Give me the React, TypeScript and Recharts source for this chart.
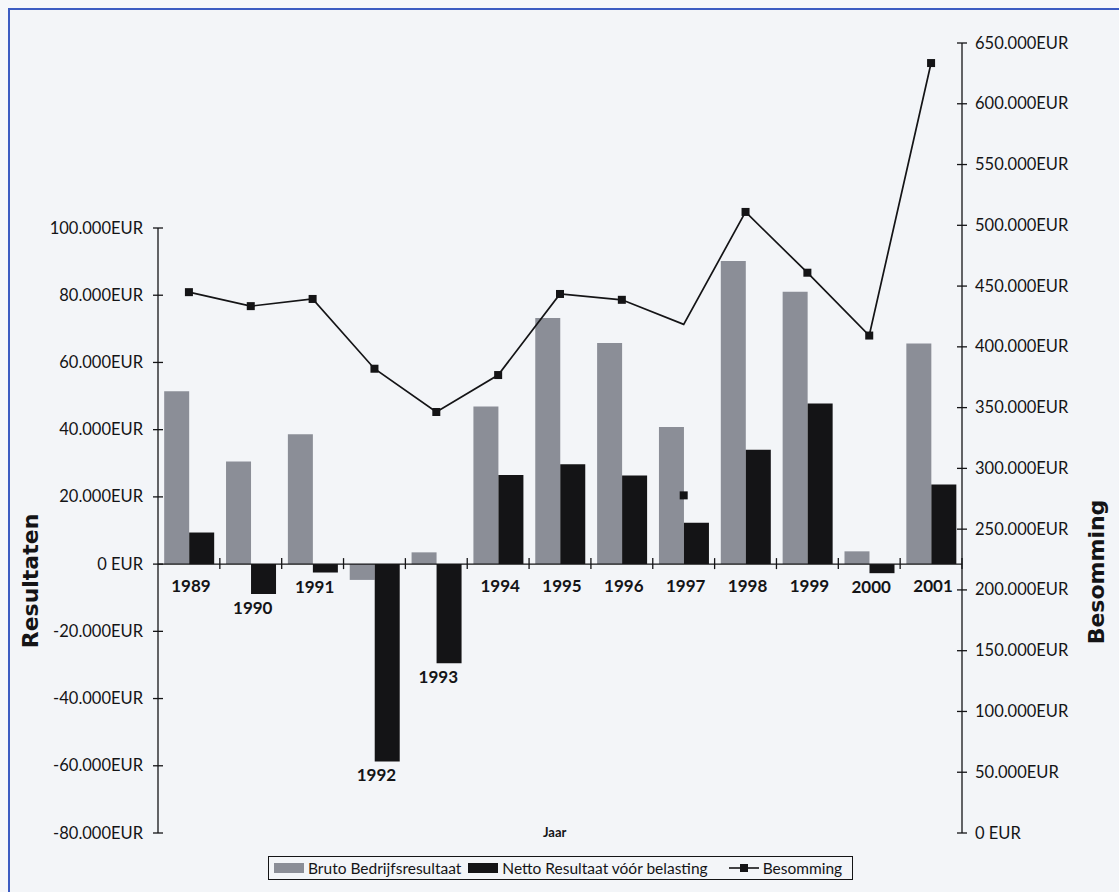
import React from "react";
import {
  ComposedChart,
  Bar,
  Line,
  XAxis,
  YAxis,
  ReferenceLine,
  LabelList,
} from "recharts";

const years = ["1989", "1990", "1991", "1992", "1993", "1994", "1995", "1996", "1997", "1998", "1999", "2000", "2001"];
const bruto = [51400, 30500, 38600, -4700, 3500, 46900, 73200, 65800, 40800, 90200, 81000, 3800, 65600];
const netto = [9400, -8900, -2500, -58700, -29500, 26500, 29700, 26400, 12300, 34000, 47800, -2700, 23700];
// the line runs through these...
const besomming = [445000, 433500, 439400, 382000, 346400, 376800, 443500, 438700, 418500, 511000, 461000, 409300, 633500];
// ...but the markers sit here (1997 is off the line in the original)
const besommingMarker = [445000, 433500, 439400, 382000, 346400, 376800, 443500, 438700, 277800, 511000, 461000, 409300, 633500];

const leftTicks = [-80000, -60000, -40000, -20000, 0, 20000, 40000, 60000, 80000, 100000];
const rightTicks = [0, 50000, 100000, 150000, 200000, 250000, 300000, 350000, 400000, 450000, 500000, 550000, 600000, 650000];

const data = years.map((year, i) => ({
  year,
  bruto: bruto[i],
  netto: netto[i],
  besomming: besomming[i],
  besommingMarker: besommingMarker[i],
}));

const W = 1119;
const H = 892;
const M = { top: 43, right: 37, bottom: 59, left: 38 };
const AXIS_W = 120;
const PLOT_L = M.left + AXIS_W;
const PLOT_R = W - M.right - AXIS_W;
const PLOT_H = H - M.top - M.bottom;
const BAND = (PLOT_R - PLOT_L) / years.length;

// left scale only covers -80k..100k, the top of the plot is empty room
const LEFT_MIN = -80000;
const LEFT_MAX = 100000 + (185 / 605) * 180000;
const STEP = (PLOT_H * 20000) / (LEFT_MAX - LEFT_MIN);

const INK = "#141416";
const GREY = "#8b8e97";
const TICK_FONT = "Lato, 'Open Sans', sans-serif";

const fmt = (v: number) => {
  if (v === 0) return "0 EUR";
  const s = String(Math.abs(v)).replace(/\B(?=(\d{3})+(?!\d))/g, ".");
  return (v < 0 ? "-" : "") + s + "EUR";
};

function LeftTick(props: any) {
  const { x, y, payload } = props;
  const v = payload.value;
  return (
    <g>
      {v < 100000 && (
        <line x1={PLOT_L} x2={PLOT_L} y1={y} y2={y - STEP} stroke={INK} strokeWidth={1.3} />
      )}
      <line x1={PLOT_L - 5} x2={PLOT_L + 5} y1={y} y2={y} stroke={INK} strokeWidth={1.3} />
      <text x={x} y={y} dy={5.5} textAnchor="end" fontFamily={TICK_FONT} fontSize={16.5} fill={INK}>
        {fmt(v)}
      </text>
    </g>
  );
}

function RightTick(props: any) {
  const { x, y, payload } = props;
  return (
    <g>
      <line x1={PLOT_R - 5} x2={PLOT_R + 5} y1={y} y2={y} stroke={INK} strokeWidth={1.3} />
      <text x={x} y={y} dy={5.5} textAnchor="start" fontFamily={TICK_FONT} fontSize={16.5} fill={INK}>
        {fmt(payload.value)}
      </text>
    </g>
  );
}

function YearLabel(props: any) {
  const { y, height, value, index } = props;
  const top = Math.min(y, y + height);
  const bottom = Math.max(y, y + height);
  const zeroY = netto[index] < 0 ? top : bottom;
  const ly = Math.max(zeroY + 22, bottom + 14);
  const cx = PLOT_L + (index + 0.5) * BAND;
  const edge = PLOT_L + (index + 1) * BAND;
  return (
    <g>
      <line x1={edge} x2={edge} y1={zeroY - 6} y2={zeroY + 5} stroke={INK} strokeWidth={1.3} />
      <text
        x={cx + 2}
        y={ly}
        dy={6}
        textAnchor="middle"
        fontFamily={TICK_FONT}
        fontWeight={700}
        fontSize={17}
        fill={INK}
      >
        {value}
      </text>
    </g>
  );
}

function SquareDot(props: any) {
  const { cx, cy, index } = props;
  if (cx == null || cy == null) return <g key={index} />;
  return <rect key={index} x={cx - 4} y={cy - 4} width={8} height={8} fill={INK} />;
}

const axisTitle = (text: string, dx: number, cyOff: number) => (props: any) => {
  const vb = props.viewBox || { x: 0, y: 0 };
  const cx = vb.x + dx;
  const cy = vb.y + cyOff;
  return (
    <text
      transform={`translate(${cx},${cy}) rotate(-90)`}
      textAnchor="middle"
      dominantBaseline="central"
      fontFamily="'DejaVu Sans', sans-serif"
      fontWeight={700}
      fontSize={22}
      fill={INK}
    >
      {text}
    </text>
  );
};

export default function App() {
  return (
    <div
      style={{
        position: "absolute",
        left: 0,
        top: 0,
        width: W,
        height: H,
        background: "#f6f7fa",
        overflow: "hidden",
      }}
    >
      {/* blue frame, only top and left show in the scan */}
      <div
        style={{
          position: "absolute",
          left: 8,
          top: 8,
          width: W,
          height: H,
          borderLeft: "2px solid #3d5cc2",
          borderTop: "2px solid #3d5cc2",
          background: "#f3f5f8",
        }}
      />

      <div style={{ position: "absolute", left: 0, top: 0 }}>
        <ComposedChart
          width={W}
          height={H}
          data={data}
          margin={M}
          barCategoryGap="10%"
          barGap={0}
        >
          <XAxis dataKey="year" hide />
          <YAxis
            yAxisId="left"
            orientation="left"
            width={AXIS_W}
            domain={[LEFT_MIN, LEFT_MAX]}
            ticks={leftTicks}
            interval={0}
            axisLine={false}
            tickLine={false}
            tickSize={5}
            tickMargin={10}
            tick={LeftTick}
            allowDataOverflow
            label={{ value: "Resultaten", content: axisTitle("Resultaten", -8, 538) }}
          />
          <YAxis
            yAxisId="right"
            orientation="right"
            width={AXIS_W}
            domain={[0, 650000]}
            ticks={rightTicks}
            interval={0}
            axisLine={{ stroke: INK, strokeWidth: 1.3 }}
            tickLine={false}
            tickSize={5}
            tickMargin={8}
            tick={RightTick}
            allowDataOverflow
            label={{ value: "Besomming", content: axisTitle("Besomming", 134, 529) }}
          />
          <ReferenceLine yAxisId="left" y={0} stroke={INK} strokeWidth={1.3} />
          <Bar yAxisId="left" dataKey="bruto" fill={GREY} isAnimationActive={false} />
          <Bar yAxisId="left" dataKey="netto" fill={INK} isAnimationActive={false}>
            <LabelList dataKey="year" content={YearLabel} />
          </Bar>
          <Line
            yAxisId="right"
            dataKey="besomming"
            stroke={INK}
            strokeWidth={1.7}
            dot={false}
            activeDot={false}
            isAnimationActive={false}
          />
          <Line
            yAxisId="right"
            dataKey="besommingMarker"
            stroke="none"
            dot={SquareDot}
            activeDot={false}
            legendType="none"
            isAnimationActive={false}
          />
        </ComposedChart>
      </div>

      <div
        style={{
          position: "absolute",
          left: 543,
          top: 824,
          fontFamily: TICK_FONT,
          fontWeight: 700,
          fontSize: 13,
          color: INK,
        }}
      >
        Jaar
      </div>

      {/* legend */}
      <div
        style={{
          position: "absolute",
          left: 268,
          top: 856,
          width: 583,
          height: 22,
          border: `1.5px solid ${INK}`,
          display: "flex",
          alignItems: "center",
          fontFamily: TICK_FONT,
          fontSize: 15.5,
          color: INK,
          whiteSpace: "nowrap",
        }}
      >
        <span style={{ display: "inline-block", width: 30, height: 10, background: GREY, marginLeft: 5, marginRight: 4 }} />
        <span>Bruto Bedrijfsresultaat</span>
        <span style={{ display: "inline-block", width: 30, height: 10, background: INK, marginLeft: 7, marginRight: 4 }} />
        <span>Netto Resultaat vóór belasting</span>
        <svg width={30} height={12} style={{ marginLeft: 21, marginRight: 4 }}>
          <line x1={0} x2={30} y1={6} y2={6} stroke={INK} strokeWidth={1.6} />
          <rect x={11} y={2} width={8} height={8} fill={INK} />
        </svg>
        <span>Besomming</span>
      </div>
    </div>
  );
}
